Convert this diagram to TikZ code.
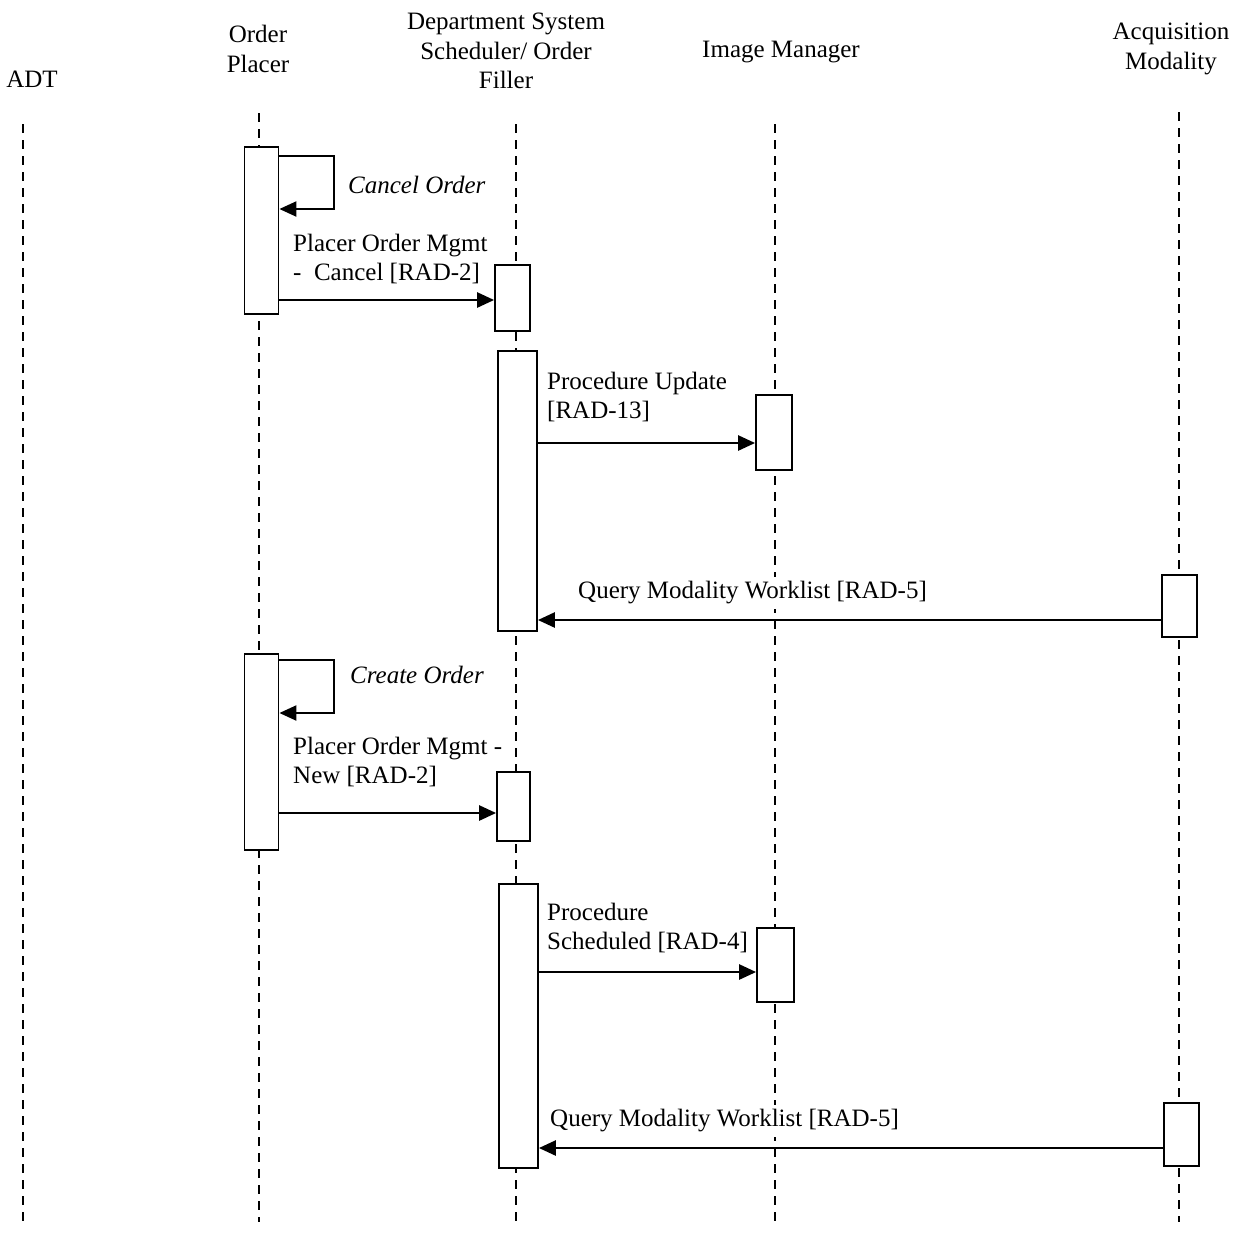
\documentclass[tikz,border=0pt]{standalone}
\usepackage{fontspec}
\setmainfont{Liberation Serif}
\usetikzlibrary{arrows.meta}
\begin{document}
\begin{tikzpicture}[x=1pt,y=-1pt,
  lbl/.style={font=\fontsize{25}{29.5}\selectfont, inner sep=0pt, align=center},
  msglbl/.style={font=\fontsize{25}{29.5}\selectfont, inner sep=0pt, align=left, anchor=west},
  masked/.style={fill=white, inner xsep=1pt, inner ysep=5pt},
  life/.style={line width=1.6pt, dash pattern=on 9pt off 7pt},
  act/.style={draw, line width=1.8pt, fill=white, inner sep=0pt},
  msg/.style={line width=2.6pt, -{Triangle[length=17pt,width=15pt]}},
  selfm/.style={line width=2.2pt, -{Triangle[length=17pt,width=15pt]}}]
\useasboundingbox (0,0) rectangle (1244,1232);

% headers
\node[lbl] (hadt) at (32,79) {ADT};
\node[lbl] (hop) at (258,49) {Order\\Placer};
\node[lbl] (hdss) at (506,51) {Department System\\Scheduler/ Order\\Filler};
\node[lbl] (him) at (781,52) {Image Manager};
\node[lbl] (ham) at (1171,49) {Acquisition\\Modality};

% lifelines
\coordinate (adtT) at (23,124); \coordinate (adtB) at (23,1222);
\coordinate (opT) at (259,113); \coordinate (opB) at (259,1222);
\coordinate (dssT) at (516,124); \coordinate (dssB) at (516,1222);
\coordinate (imT) at (775,124); \coordinate (imB) at (775,1222);
\coordinate (amT) at (1179,112); \coordinate (amB) at (1179,1222);
\draw[life] (adtT) -- (adtB);
\draw[life] (opT) -- (opB);
\draw[life] (dssT) -- (dssB);
\draw[life] (imT) -- (imB);
\draw[life] (amT) -- (amB);

% activation boxes
\node[act, minimum width=34pt, minimum height=167pt] (op1) at (261.5,230.5) {};
\node[act, minimum width=35pt, minimum height=66pt] (dss1) at (512.5,298) {};
\node[act, minimum width=39pt, minimum height=280pt] (dss2) at (517.5,491) {};
\node[act, minimum width=36pt, minimum height=75pt] (im1) at (774,432.5) {};
\node[act, minimum width=35pt, minimum height=62pt] (am1) at (1179.5,606) {};
\node[act, minimum width=34pt, minimum height=196pt] (op2) at (261.5,752) {};
\node[act, minimum width=33pt, minimum height=69pt] (dss3) at (513.5,806.5) {};
\node[act, minimum width=39pt, minimum height=284pt] (dss4) at (518.5,1026) {};
\node[act, minimum width=37pt, minimum height=74pt] (im2) at (775.5,965) {};
\node[act, minimum width=35pt, minimum height=63pt] (am2) at (1181.5,1134.5) {};

% self messages
\coordinate (c1a) at (334,156); \coordinate (c1b) at (334,209);
\draw[selfm] (op1.east |- c1a) -- (c1a) -- (c1b) -- (op1.east |- c1b);
\node[msglbl, font=\fontsize{25}{29.5}\selectfont\itshape] (l1) at (348,185) {Cancel Order};

\coordinate (c2a) at (334,660); \coordinate (c2b) at (334,713);
\draw[selfm] (op2.east |- c2a) -- (c2a) -- (c2b) -- (op2.east |- c2b);
\node[msglbl, font=\fontsize{25}{29.5}\selectfont\itshape] (l2) at (350,675) {Create Order};

% messages
\coordinate (y1) at (0,300);
\draw[msg] (op1.east |- y1) -- (dss1.west |- y1);
\node[msglbl] (l3) at (293,259) {Placer Order Mgmt\\-\ \ Cancel [RAD-2]};

\coordinate (y2) at (0,443);
\draw[msg] (dss2.east |- y2) -- (im1.west |- y2);
\node[msglbl] (l4) at (547,397) {Procedure Update\\{}[RAD-13]};

\coordinate (y3) at (0,620);
\draw[msg] (am1.west |- y3) -- (dss2.east |- y3);
\node[msglbl, masked] (l5) at (577,593) {Query Modality Worklist [RAD-5]};

\coordinate (y4) at (0,813);
\draw[msg] (op2.east |- y4) -- (dss3.west |- y4);
\node[msglbl] (l6) at (293,762) {Placer Order Mgmt -\\New [RAD-2]};

\coordinate (y5) at (0,972);
\draw[msg] (dss4.east |- y5) -- (im2.west |- y5);
\node[msglbl] (l7) at (547,928) {Procedure\\Scheduled [RAD-4]};

\coordinate (y6) at (0,1148);
\draw[msg] (am2.west |- y6) -- (dss4.east |- y6);
\node[msglbl, masked] (l8) at (549,1121) {Query Modality Worklist [RAD-5]};
\end{tikzpicture}
\end{document}
